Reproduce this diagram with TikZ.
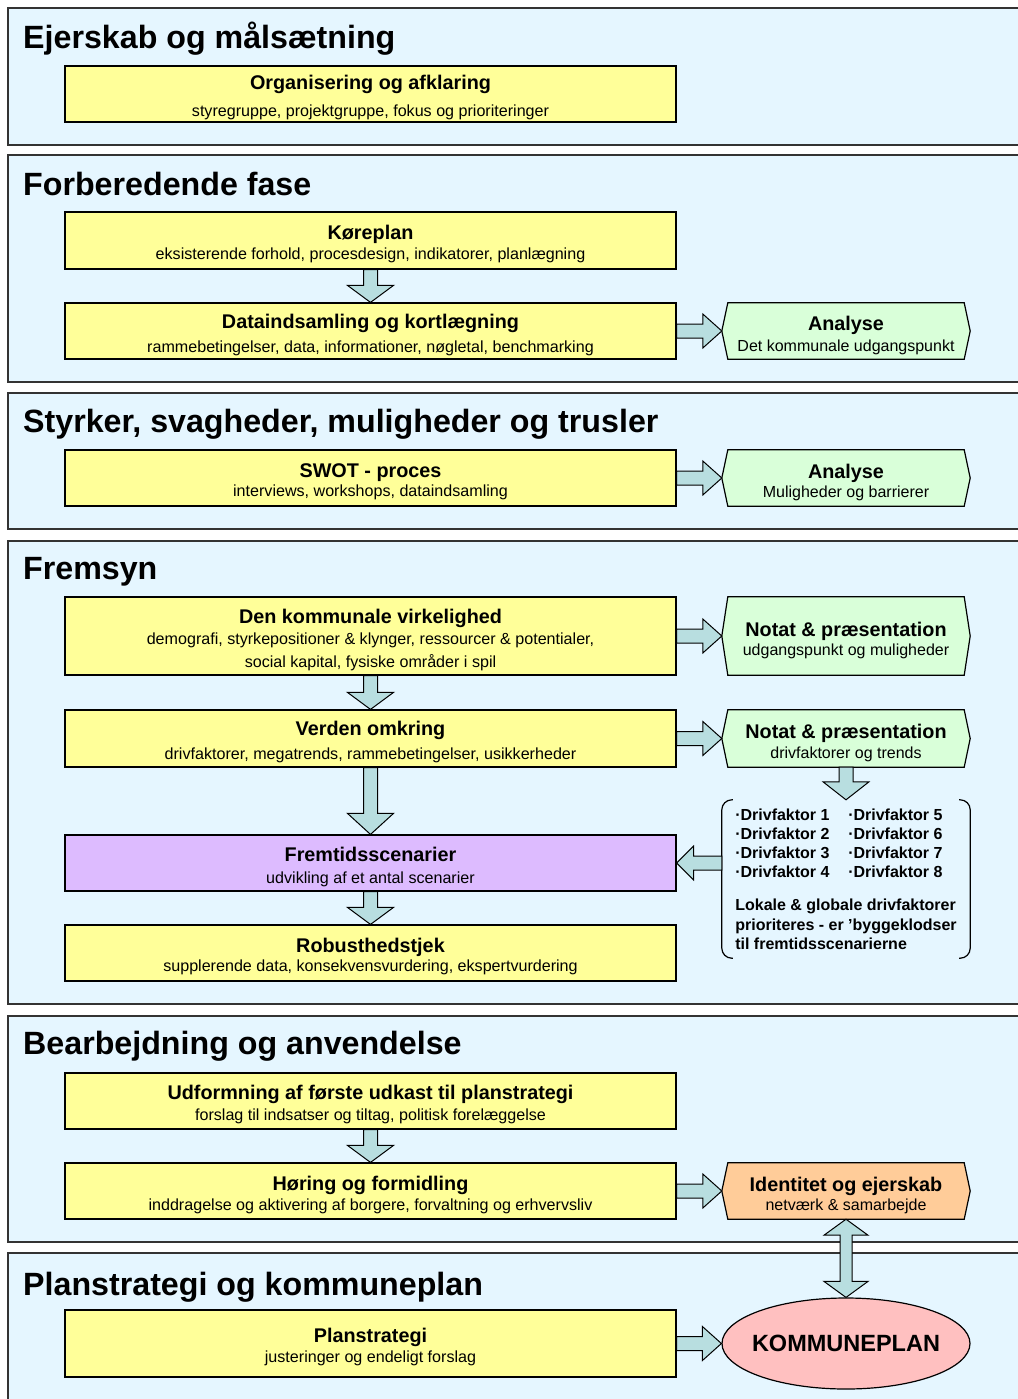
\documentclass[tikz,border=0pt]{standalone}
\usepackage{fontspec}
\setmainfont{Liberation Sans}
\usetikzlibrary{calc,shapes.geometric}
\pgfdeclarelayer{bg}\pgfdeclarelayer{shp}\pgfsetlayers{bg,shp,main}
\definecolor{panelfill}{RGB}{229,246,255}
\definecolor{yel}{RGB}{255,255,153}
\definecolor{hgreen}{RGB}{217,255,217}
\definecolor{horange}{RGB}{255,204,153}
\definecolor{hpurple}{RGB}{221,187,255}
\definecolor{hpink}{RGB}{255,192,192}
\definecolor{arrowc}{RGB}{184,222,224}
\newcommand\bt[2][21.5pt]{{\fontsize{19.8}{20}\selectfont\bfseries\rule{0pt}{#1}#2}}
\newcommand\myharr[3][19]{%
 \draw[barrow] let \p1=(#2), \p2=(#3), \n1={sign(\x2-\x1)} in
  ({\x1},{\y2+7pt}) -- ({\x2-\n1*#1pt},{\y2+7pt}) -- ({\x2-\n1*#1pt},{\y2+17pt}) -- (\x2,\y2) -- ({\x2-\n1*#1pt},{\y2-17pt}) -- ({\x2-\n1*#1pt},{\y2-7pt}) -- ({\x1},{\y2-7pt}) -- cycle;}
\newcommand\myvarr[3][18]{%
 \draw[barrow] let \p1=(#2), \p2=(#3), \n1={sign(\y2-\y1)} in
  ({\x1-7pt},{\y1}) -- ({\x1-7pt},{\y2-\n1*#1pt}) -- ({\x1-23pt},{\y2-\n1*#1pt}) -- (\x1,\y2) -- ({\x1+23pt},{\y2-\n1*#1pt}) -- ({\x1+7pt},{\y2-\n1*#1pt}) -- ({\x1+7pt},{\y1}) -- cycle;}
\newcommand\mydarr[2]{%
 \draw[barrow] let \p1=(#1), \p2=(#2) in
  (\x1,\y1) -- ({\x1+22pt},{\y1-16pt}) -- ({\x1+6pt},{\y1-16pt}) -- ({\x1+6pt},{\y2+16pt}) -- ({\x1+22pt},{\y2+16pt}) -- (\x1,\y2) -- ({\x1-22pt},{\y2+16pt}) -- ({\x1-6pt},{\y2+16pt}) -- ({\x1-6pt},{\y1-16pt}) -- ({\x1-22pt},{\y1-16pt}) -- cycle;}
\tikzset{
 panel/.style={draw=black!80, line width=1.6pt, fill=panelfill},
 ptitle/.style={anchor=base west, inner sep=0pt, font=\fontsize{32.2}{36}\selectfont\bfseries},
 ybox/.style={draw=black, line width=1.2pt, fill=yel, minimum width=611pt, minimum height=56pt, inner sep=0pt, align=center},
 hexn/.style={minimum width=248pt, minimum height=56pt, inner sep=0pt, align=center},
 gapfont/.style={font=\fontsize{16.1}{#1}\selectfont},
 hgap/.style={font=\fontsize{16}{#1}\selectfont},
 barrow/.style={draw=black, line width=1pt, fill=arrowc, line join=miter},
 hexline/.style={draw=black, line width=1.2pt},
 brk/.style={draw=black, line width=1.2pt, rounded corners=10pt},
}
\begin{document}
\begin{tikzpicture}[x=1pt,y=-1pt]
\useasboundingbox (0,0) rectangle (1017,1399);
\clip (0,0) rectangle (1017,1399);
% panels
\begin{pgfonlayer}{bg}
\draw[panel] (8,8) rectangle (1035,145);
\draw[panel] (8,155) rectangle (1035,382);
\draw[panel] (8,393) rectangle (1035,529);
\draw[panel] (8,541) rectangle (1035,1004);
\draw[panel] (8,1016) rectangle (1035,1242);
\draw[panel] (8,1253) rectangle (1035,1430);
\end{pgfonlayer}
\node[ptitle] (t1) at (23,49) {Ejerskab og målsætning};
\node[ptitle] (t2) at (23,196) {Forberedende fase};
\node[ptitle] (t3) at (23,432) {Styrker, svagheder, muligheder og trusler};
\node[ptitle] (t4) at (23,579) {Fremsyn};
\node[ptitle] (t5) at (23,1054) {Bearbejdning og anvendelse};
\node[ptitle] (t6) at (23,1295) {Planstrategi og kommuneplan};
% yellow boxes
\node[ybox, gapfont=27] (org) at (370.5,94) {\bt{Organisering og afklaring}\\ styregruppe, projektgruppe, fokus og prioriteringer};
\node[ybox, gapfont=20, minimum height=57pt] (kor) at (370.5,240.5) {\bt{Køreplan}\\ eksisterende forhold, procesdesign, indikatorer, planlægning};
\node[ybox, gapfont=24] (dat) at (370.5,331) {\bt{Dataindsamling og kortlægning}\\ rammebetingelser, data, informationer, nøgletal, benchmarking};
\node[ybox, gapfont=19] (swot) at (370.5,478) {\bt{SWOT - proces}\\ interviews, workshops, dataindsamling};
\node[ybox, gapfont=21, minimum height=78pt] (kom) at (370.5,636) {\bt{Den kommunale virkelighed}\\ demografi, styrkepositioner \& klynger, ressourcer \& potentialer,\\[2pt] social kapital, fysiske områder i spil};
\node[ybox, gapfont=24, minimum height=57pt] (ver) at (370.5,738.5) {\bt{Verden omkring}\\ drivfaktorer, megatrends, rammebetingelser, usikkerheder};
\node[ybox, gapfont=22, fill=hpurple] (frem) at (370.5,863) {\bt{Fremtidsscenarier}\\ udvikling af et antal scenarier};
\node[ybox, gapfont=19] (rob) at (370.5,953) {\bt[22pt]{Robusthedstjek}\\ supplerende data, konsekvensvurdering, ekspertvurdering};
\node[ybox, gapfont=21] (udf) at (370.5,1101) {\bt{Udformning af første udkast til planstrategi}\\ forslag til indsatser og tiltag, politisk forelæggelse};
\node[ybox, gapfont=20] (hor) at (370.5,1191) {\bt{Høring og formidling}\\ inddragelse og aktivering af borgere, forvaltning og erhvervsliv};
\node[ybox, gapfont=20, minimum height=67pt] (pla) at (370.5,1343.5) {\bt[22pt]{Planstrategi}\\ justeringer og endeligt forslag};
% hex nodes
\node[hexn, hgap=21] (an1) at (846,331) {\bt[23pt]{Analyse}\\ Det kommunale udgangspunkt};
\node[hexn, hgap=19] (an2) at (846,478) {\bt[22.5pt]{Analyse}\\ Muligheder og barrierer};
\node[hexn, hgap=19, minimum height=78pt] (no1) at (846,636) {\bt[22.5pt]{Notat \& præsentation}\\ udgangspunkt og muligheder};
\node[hexn, hgap=20, minimum height=57pt] (no2) at (846,738.5) {\bt[22.5pt]{Notat \& præsentation}\\ drivfaktorer og trends};
\node[hexn, hgap=19] (id) at (846,1191) {\bt[22.5pt]{Identitet og ejerskab}\\ netværk \& samarbejde};
\begin{pgfonlayer}{shp}
\draw[hexline, fill=hgreen] ($(an1.north west)+(6,0)$) -- ($(an1.north east)+(-6,0)$) -- (an1.east) -- ($(an1.south east)+(-6,0)$) -- ($(an1.south west)+(6,0)$) -- (an1.west) -- cycle;
\draw[hexline, fill=hgreen] ($(an2.north west)+(6,0)$) -- ($(an2.north east)+(-6,0)$) -- (an2.east) -- ($(an2.south east)+(-6,0)$) -- ($(an2.south west)+(6,0)$) -- (an2.west) -- cycle;
\draw[hexline, fill=hgreen] ($(no1.north west)+(6,0)$) -- ($(no1.north east)+(-6,0)$) -- (no1.east) -- ($(no1.south east)+(-6,0)$) -- ($(no1.south west)+(6,0)$) -- (no1.west) -- cycle;
\draw[hexline, fill=hgreen] ($(no2.north west)+(6,0)$) -- ($(no2.north east)+(-6,0)$) -- (no2.east) -- ($(no2.south east)+(-6,0)$) -- ($(no2.south west)+(6,0)$) -- (no2.west) -- cycle;
\draw[hexline, fill=horange] ($(id.north west)+(6,0)$) -- ($(id.north east)+(-6,0)$) -- (id.east) -- ($(id.south east)+(-6,0)$) -- ($(id.south west)+(6,0)$) -- (id.west) -- cycle;
\end{pgfonlayer}
% ellipse
\node[ellipse, draw=black, line width=1.2pt, fill=hpink, minimum width=248pt, minimum height=91pt, inner sep=0pt, font=\fontsize{23.5}{26}\selectfont\bfseries] (kp) at (846,1343.5) {\makebox[0pt][c]{KOMMUNEPLAN}};
% driver box
\node[minimum width=248pt, minimum height=158pt, inner xsep=13pt, inner ysep=0pt, align=left, font=\fontsize{16}{19.3}\selectfont\bfseries] (drv) at (846,879)
 {\makebox[113pt][l]{·Drivfaktor 1}·Drivfaktor 5\\
  \makebox[113pt][l]{·Drivfaktor 2}·Drivfaktor 6\\
  \makebox[113pt][l]{·Drivfaktor 3}·Drivfaktor 7\\
  \makebox[113pt][l]{·Drivfaktor 4}·Drivfaktor 8\\[13.5pt]
  Lokale \& globale drivfaktorer\\
  prioriteres - er ’byggeklodser\\
  til fremtidsscenarierne};
\draw[brk] ($(drv.north west)+(11,0)$) -- (drv.north west) -- (drv.south west) -- ($(drv.south west)+(11,0)$);
\draw[brk] ($(drv.north east)+(-11,0)$) -- (drv.north east) -- (drv.south east) -- ($(drv.south east)+(-11,0)$);
% arrows
\myvarr[17]{kor.south}{dat.north}
\myvarr[17]{kom.south}{ver.north}
\myvarr[21]{ver.south}{frem.north}
\myvarr[17]{frem.south}{rob.north}
\myvarr[17]{udf.south}{hor.north}
\myvarr[18]{no2.south}{drv.north}
\myharr{dat.east}{an1.west}
\myharr{swot.east}{an2.west}
\myharr{kom.east}{no1.west}
\myharr{ver.east}{no2.west}
\myharr{hor.east}{id.west}
\myharr{pla.east}{kp.west}
\myharr[17]{drv.west}{frem.east}
\mydarr{id.south}{kp.north}
\end{tikzpicture}
\end{document}
